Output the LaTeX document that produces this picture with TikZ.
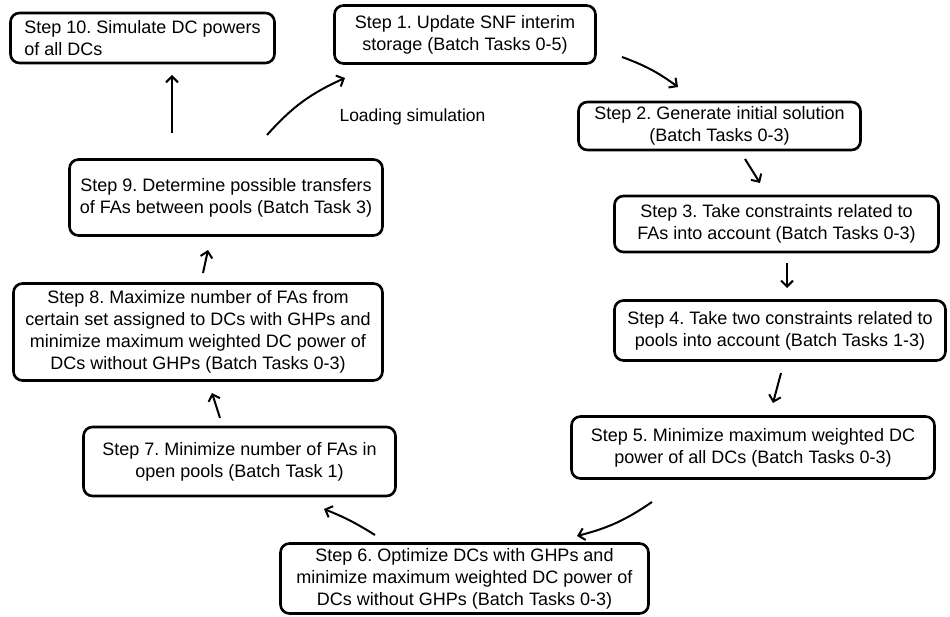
\documentclass[tikz,border=0pt]{standalone}
\usepackage{fontspec}
\setmainfont{Liberation Sans}
\usetikzlibrary{arrows.meta}
\begin{document}
\frenchspacing
\begin{tikzpicture}[x=1pt,y=1pt,
  box/.style 2 args={draw, line width=2.6pt, rounded corners=9pt, align=center,
    inner sep=0pt, minimum width=#1pt, minimum height=#2pt,
    font=\fontsize{18}{22}\selectfont},
  flow/.style={line width=2pt, -{Straight Barb[length=6pt,width=12pt,line width=2pt]}}]
\useasboundingbox (0,0) rectangle (950,-617);
% boxes
\node[box={264}{50}, align=left] (s10) at (142.5,-38) {Step 10. Simulate DC powers\\of all DCs};
\node[box={261}{58}] (s1) at (465,-34.5) {Step 1. Update SNF interim\\storage (Batch Tasks 0-5)};
\node[box={282}{48}] (s2) at (719.5,-126) {Step 2. Generate initial solution\\(Batch Tasks 0-3)};
\node[box={324}{56}] (s3) at (776.5,-224) {Step 3. Take constraints related to\\FAs into account (Batch Tasks 0-3)};
\node[box={331}{60}] (s4) at (780,-330.5) {Step 4. Take two constraints related to\\pools into account (Batch Tasks 1-3)};
\node[box={363}{62}] (s5) at (753,-447.5) {Step 5. Minimize maximum weighted DC\\power of all DCs (Batch Tasks 0-3)};
\node[box={368}{70}] (s6) at (464.5,-578.5) {Step 6. Optimize DCs with GHPs and\\minimize maximum weighted DC power of\\DCs without GHPs (Batch Tasks 0-3)};
\node[box={312}{69}] (s7) at (239.5,-461.5) {Step 7. Minimize number of FAs in\\open pools (Batch Task 1)};
\node[box={369}{97}] (s8) at (198,-332) {Step 8. Maximize number of FAs from\\certain set assigned to DCs with GHPs and\\minimize maximum weighted DC power of\\DCs without GHPs (Batch Tasks 0-3)};
\node[box={313}{76}] (s9) at (226,-197.5) {Step 9. Determine possible transfers\\of FAs between pools (Batch Task 3)};
\node[font=\fontsize{17.5}{21.5}\selectfont] (lbl) at (412.5,-117) {Loading simulation};
% arrow end points
\coordinate (a9a) at (172,-133); \coordinate (a9b) at (172,-75);
\coordinate (a1a) at (267,-135); \coordinate (a1b) at (345,-78);
\coordinate (a2a) at (622,-57); \coordinate (a2b) at (678,-87);
\coordinate (a3a) at (745,-159); \coordinate (a3b) at (760,-183);
\coordinate (a4a) at (787,-263); \coordinate (a4b) at (787,-288);
\coordinate (a5a) at (781,-373); \coordinate (a5b) at (773,-403);
\coordinate (a6a) at (652,-502); \coordinate (a6b) at (577,-536);
\coordinate (a7a) at (375,-535); \coordinate (a7b) at (324,-509);
\coordinate (a8a) at (220,-418); \coordinate (a8b) at (212,-393);
\coordinate (a10a) at (203,-273); \coordinate (a10b) at (208,-250);
% arrows
\draw[flow] (a9a) -- (a9b);
\draw[flow] (a1a) to[bend left=12] (a1b);
\draw[flow] (a2a) to[bend left=8] (a2b);
\draw[flow] (a3a) -- (a3b);
\draw[flow] (a4a) -- (a4b);
\draw[flow] (a5a) -- (a5b);
\draw[flow] (a6a) to[bend left=10] (a6b);
\draw[flow] (a7a) to[bend right=5] (a7b);
\draw[flow] (a8a) -- (a8b);
\draw[flow] (a10a) -- (a10b);
\end{tikzpicture}
\end{document}
